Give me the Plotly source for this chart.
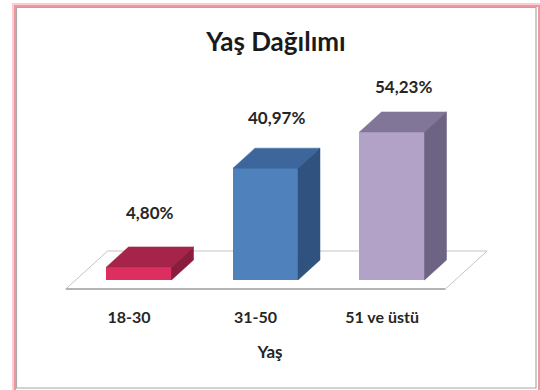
import plotly.graph_objects as go

# --- data -----------------------------------------------------------------
categories = ["18-30", "31-50", "51 ve üstü"]
values = [4.80, 40.97, 54.23]          # percent
chart_title = "Yaş Dağılımı"
axis_title = "Yaş"

# --- colours (front / top / side of each 3D column) -----------------------
front_colors = ["#DC2F5F", "#4F81BD", "#B3A2C7"]
top_colors = ["#A62449", "#3D679C", "#817598"]
side_colors = ["#8A1D3D", "#2F527F", "#6D6383"]

FONT = "Lato, sans-serif"

# --- geometry --------------------------------------------------------------
W, H = 540, 390
L, R, T, B = 40, 500, 60, 300          # plot area in pixels
PX_PER_CAT = 126.5                      # horizontal pixels per category step
PX_PER_PCT = 2.73                       # vertical pixels per percent
X0_PX, Y0_PX = 139, 280                 # first column front centre / baseline

BAR_W = 0.514                           # column width in category units
DX = 22 / PX_PER_CAT                    # oblique depth offset (x, data units)
DY = 20 / PX_PER_PCT                    # oblique depth offset (y, data units)
FLOOR_Z = (-0.45, 1.45)                 # floor depth extent, in column depths
LABEL_LIFT = [44, 41, 35]               # label gap above each column (px)

x_range = [(L - X0_PX) / PX_PER_CAT, (R - X0_PX) / PX_PER_CAT]
y_range = [(Y0_PX - B) / PX_PER_PCT, (Y0_PX - T) / PX_PER_PCT]


def px_to_paper(px, py):
    return (px - L) / (R - L), (B - py) / (B - T)


fig = go.Figure()

# front faces of the columns
xs = list(range(len(categories)))
fig.add_trace(go.Bar(
    x=xs, y=values, base=0, width=BAR_W,
    marker=dict(color=front_colors, line=dict(width=0)),
    hoverinfo="skip", showlegend=False,
))

# top and side faces, projected obliquely from each value
hw = BAR_W / 2
for i, v in enumerate(values):
    top_x = [i - hw, i + hw, i + hw + DX, i - hw + DX, i - hw]
    top_y = [v, v, v + DY, v + DY, v]
    fig.add_trace(go.Scatter(
        x=top_x, y=top_y, mode="lines", fill="toself",
        fillcolor=top_colors[i], line=dict(color=top_colors[i], width=0.5),
        hoverinfo="skip", showlegend=False,
    ))
    side_x = [i + hw, i + hw + DX, i + hw + DX, i + hw, i + hw]
    side_y = [0, DY, v + DY, v, 0]
    fig.add_trace(go.Scatter(
        x=side_x, y=side_y, mode="lines", fill="toself",
        fillcolor=side_colors[i], line=dict(color=side_colors[i], width=0.5),
        hoverinfo="skip", showlegend=False,
    ))

# value labels above each column
for i, v in enumerate(values):
    fig.add_annotation(
        x=i + DX / 2, y=v + DY / 2, xref="x", yref="y",
        text=f"{v:.2f}".replace(".", ",") + "%",
        showarrow=False, yshift=LABEL_LIFT[i], yanchor="middle",
        font=dict(family=FONT, size=17, color="#262626", weight="bold"),
    )

# floor of the 3D plot
n = len(categories)
zf, zb = FLOOR_Z
fx0, fx1 = -0.5, n - 0.5
floor = [
    (fx0 + zf * DX, zf * DY), (fx1 + zf * DX, zf * DY),
    (fx1 + zb * DX, zb * DY), (fx0 + zb * DX, zb * DY),
]
path = "M " + " L ".join(f"{x},{y}" for x, y in floor) + " Z"
fig.add_shape(type="path", path=path, xref="x", yref="y", layer="below",
              fillcolor="white", line=dict(color="#C4C4C4", width=1))
fig.add_shape(type="line", xref="x", yref="y", layer="below",
              x0=floor[0][0], y0=floor[0][1], x1=floor[1][0], y1=floor[1][1],
              line=dict(color="#B4B4B4", width=2))

# chart-area frame: soft pink glow with a thin grey inner edge
for (x0, y0, x1, y1, col, w) in [
    (13, 4, 541, 394, "#F9CDD1", 2),
    (15, 6, 539, 392, "#EE97A0", 2),
    (16.5, 7.5, 536, 388, "#A6AAAA", 1.2),
]:
    a0, b0 = px_to_paper(x0, y1)
    a1, b1 = px_to_paper(x1, y0)
    fig.add_shape(type="rect", xref="paper", yref="paper",
                  x0=a0, y0=b0, x1=a1, y1=b1, layer="above",
                  line=dict(color=col, width=w))

fig.update_layout(
    width=W, height=H,
    margin=dict(l=L, r=W - R, t=T, b=H - B),
    paper_bgcolor="white", plot_bgcolor="rgba(0,0,0,0)",
    title=dict(text=chart_title, x=276 / W, xanchor="center",
               y=1 - 42 / H, yanchor="middle", yref="container",
               font=dict(family=FONT, size=26, color="#1A1A1A",
                         weight="bold")),
    font=dict(family=FONT),
    xaxis=dict(
        range=x_range, showgrid=False, zeroline=False, showline=False,
        tickmode="array", tickvals=[i + zf * DX for i in xs],
        ticktext=categories, ticks="outside", ticklen=3,
        tickcolor="rgba(0,0,0,0)",
        tickfont=dict(family=FONT, size=16, color="#262626", weight="bold"),
        title=dict(text=axis_title, standoff=20,
                   font=dict(family=FONT, size=17, color="#262626",
                             weight="bold")),
        fixedrange=True,
    ),
    yaxis=dict(range=y_range, visible=False, fixedrange=True),
    bargap=0,
)

fig.write_html("out.html")
